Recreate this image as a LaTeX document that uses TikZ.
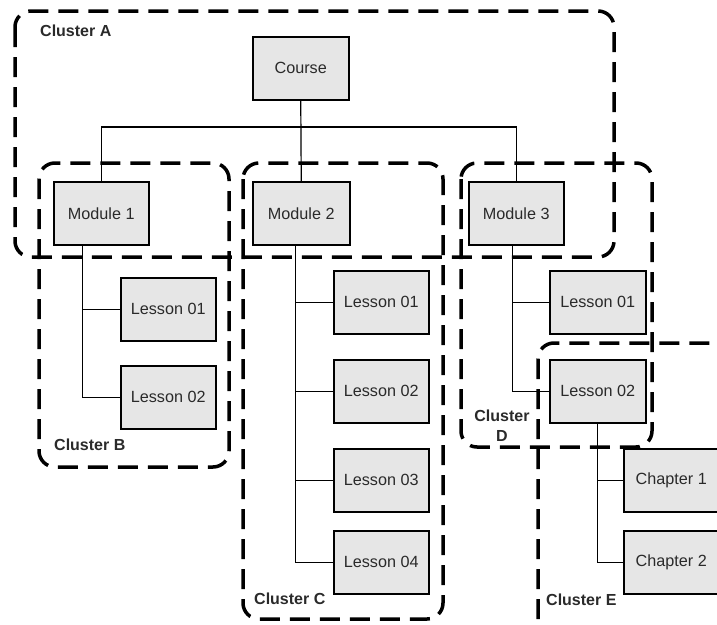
\documentclass[tikz,border=0pt]{standalone}
\usepackage{fontspec}
\setmainfont{Liberation Sans}
\definecolor{boxgray}{HTML}{E6E6E6}
\definecolor{textgray}{HTML}{2A2A2A}
\begin{document}
\begin{tikzpicture}[x=1pt,y=-1pt,
  box/.style={draw=black, line width=1.5pt, fill=boxgray, minimum width=95pt, minimum height=63pt, inner sep=0pt, anchor=north west, font=\fontsize{16.2}{19}\selectfont, text=textgray},
  cluster/.style={draw=black, line width=3.5pt, dash pattern=on 20pt off 10pt, rounded corners=16pt},
  clabel/.style={font=\bfseries\fontsize{16}{19}\selectfont, anchor=west, inner sep=0pt, text=textgray},
  link/.style={line width=1.2pt}]
\useasboundingbox (0,0) rectangle (717,624);
\clip (0,0) rectangle (717,624);
% nodes
\node[box, minimum width=96pt] (course) at (252,36) {Course};
\node[box] (m1) at (53,181) {Module 1};
\node[box, minimum width=97pt] (m2) at (252,181) {Module 2};
\node[box] (m3) at (468,181) {Module 3};
\node[box] (b1) at (120,277) {Lesson 01};
\node[box] (b2) at (120,365) {Lesson 02};
\node[box] (c1) at (333,270) {Lesson 01};
\node[box] (c2) at (333,359) {Lesson 02};
\node[box] (c3) at (333,448) {Lesson 03};
\node[box] (c4) at (333,530) {Lesson 04};
\node[box, minimum width=96pt] (d1) at (549,270) {Lesson 01};
\node[box, minimum width=96pt] (d2) at (549,359) {Lesson 02};
\node[box] (e1) at (623,448) {Chapter 1};
\node[box] (e2) at (623,530) {Chapter 2};
% connectors
\coordinate (bus) at (300,127);
\draw[link] (course.south) -- (m2.north);
\draw[link] (m1.north) |- (bus) -| (m3.north);
\coordinate (s1) at ([xshift=-18.5pt]m1.south);
\draw[link] (s1) |- (b1.west);
\draw[link] (s1) |- (b2.west);
\coordinate (s2) at ([xshift=-5.5pt]m2.south);
\draw[link] (s2) |- (c1.west);
\draw[link] (s2) |- (c2.west);
\draw[link] (s2) |- (c3.west);
\draw[link] (s2) |- (c4.west);
\coordinate (s3) at ([xshift=-3.5pt]m3.south);
\draw[link] (s3) |- (d1.west);
\draw[link] (s3) |- (d2.west);
\draw[link] (d2.south) |- (e1.west);
\draw[link] (d2.south) |- (e2.west);
% clusters
\draw[cluster] (15,11) rectangle (614,257);
\draw[cluster] (39,163) rectangle (229,467);
\draw[cluster] (243,163) rectangle (443,619);
\draw[cluster] (461,163) rectangle (652,447);
\draw[cluster] (538,343) rectangle (770,680);
% cluster labels
\node[clabel] (la) at (40,31) {Cluster A};
\node[clabel] (lb) at (54,445) {Cluster B};
\node[clabel] (lc) at (254,599) {Cluster C};
\node[clabel, anchor=center, align=center, font=\bfseries\fontsize{16}{20}\selectfont] (ld) at (502,426) {Cluster\\D};
\node[clabel] (le) at (546,600) {Cluster E};
\end{tikzpicture}
\end{document}
